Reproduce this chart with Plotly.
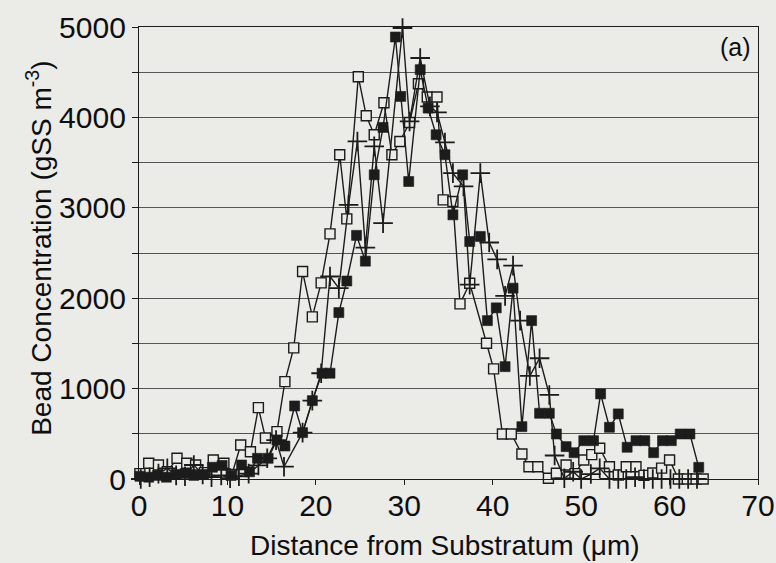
import plotly.graph_objects as go

# ---- data ----
dist_open = [0.1, 1.1, 2.2, 3.2, 4.3, 5.4, 6.4, 7.4, 8.4, 9.6,
             10.5, 11.5, 12.6, 13.5, 14.3, 15.6, 16.5, 17.5, 18.5, 19.6,
             20.6, 21.6, 22.7, 23.5, 24.8, 25.7, 26.6, 27.7, 28.6, 29.5,
             30.6, 31.6, 32.6, 33.7, 34.4, 35.5, 36.3, 37.4, 39.3, 40.1,
             41.1, 42.1, 43.3, 44.1, 45.1, 46.3, 47.2, 48.3, 49.3, 50.3,
             51.2, 52.1, 53.2, 54.2, 55.1, 56.2, 57.1, 58.1, 59.1, 60.0,
             61.0, 62.0, 63.0, 63.8]
conc_open = [60, 174, 155, 80, 229, 174, 155, 70, 210, 174,
             50, 376, 302, 790, 454, 524, 1077, 1450, 2295, 1793,
             2170, 2712, 3587, 2878, 4450, 4018, 3808, 4162, 3587, 3734,
             3944, 4373, 4225, 4225, 3088, 3070, 1937, 2166, 1502, 1218,
             498, 498, 277, 136, 136, 8, 63, 155, 60, 210,
             270, 340, 136, 44, 136, 136, 40, 66, 120, 210,
             0, 0, 0, 0]

dist_filled = [0.1, 1.1, 2.1, 3.1, 4.2, 5.2, 6.2, 7.3, 8.3, 9.4,
               10.4, 11.6, 12.5, 13.4, 14.6, 15.6, 16.5, 17.6, 18.5, 19.6,
               20.7, 21.6, 22.6, 23.5, 24.6, 25.6, 26.6, 27.6, 29.0, 29.6,
               30.5, 31.8, 32.7, 33.6, 34.6, 35.5, 36.6, 37.4, 38.6, 39.4,
               40.4, 41.4, 42.3, 43.3, 44.4, 45.3, 46.4, 47.2, 48.3, 49.2,
               50.3, 51.4, 52.2, 53.2, 54.2, 55.2, 56.2, 57.2, 58.2, 59.2,
               60.2, 61.2, 62.3, 63.3]
conc_filled = [30, 20, 40, 20, 50, 60, 40, 50, 130, 150,
               40, 155, 80, 229, 229, 432, 365, 808, 513, 867,
               1170, 1170, 1841, 2190, 2695, 2410, 3365, 3889, 4889, 4232,
               3291, 4528, 4103, 3808, 3587, 2922, 3365, 2627, 2683, 1752,
               1893, 1243, 2111, 579, 1752, 727, 727, 498, 358, 291,
               424, 424, 941, 572, 720, 351, 424, 424, 291, 424,
               424, 498, 498, 129]

dist_plus = [0.2, 1.2, 2.2, 3.2, 4.2, 5.2, 6.2, 7.2, 8.2, 9.3,
             10.3, 11.3, 12.4, 13.5, 14.5, 15.5, 16.4, 18.5, 19.6, 20.6,
             21.6, 22.6, 23.7, 24.7, 25.6, 26.6, 27.6, 29.8, 30.6, 31.8,
             32.9, 33.7, 34.6, 35.5, 36.7, 37.4, 38.6, 39.6, 40.5, 41.4,
             42.3, 43.1, 44.2, 45.3, 46.4, 47.0, 48.1, 49.1, 50.0, 51.1,
             52.1, 53.2, 54.2, 55.1, 56.1, 57.1, 58.1, 59.1, 60.1, 61.1,
             62.1, 63.1]
conc_plus = [0, 20, 60, 118, 40, 30, 155, 50, 20, 40,
             10, 30, 60, 150, 229, 430, 136, 513, 867, 1170,
             2240, 2111, 3033, 3734, 2560, 3679, 2830, 4989, 3955, 4657,
             4122, 4055, 3723, 3384, 3236, 2150, 3384, 2616, 2430, 2026,
             2360, 1752, 1140, 1336, 930, 260, 8, 80, 0, 55,
             118, 0, 0, 0, 20, 0, 0, 0, 0, 0,
             0, 0]

x_ticks = [0, 10, 20, 30, 40, 50, 60, 70]
y_ticks = [0, 500, 1000, 1500, 2000, 2500, 3000, 3500, 4000, 4500, 5000]
y_labels = ["0", "", "1000", "", "2000", "", "3000", "", "4000", "", "5000"]

BG = "#ebebe8"
INK = "#1c1c1c"
TXT = "#0e0e0e"
FONT = "Liberation Sans"

fig = go.Figure()
fig.add_trace(go.Scatter(
    x=dist_open, y=conc_open, mode="lines+markers", cliponaxis=False,
    line=dict(color=INK, width=1.4),
    marker=dict(symbol="square", size=10, color=BG, line=dict(color=INK, width=1.4)),
))
fig.add_trace(go.Scatter(
    x=dist_plus, y=conc_plus, mode="lines+markers", cliponaxis=False,
    line=dict(color=INK, width=1.4),
    marker=dict(symbol="cross-thin", size=14, color=INK, line=dict(color=INK, width=1.8)),
))
fig.add_trace(go.Scatter(
    x=dist_filled, y=conc_filled, mode="lines+markers", cliponaxis=False,
    line=dict(color=INK, width=1.4),
    marker=dict(symbol="square", size=10, color=INK, line=dict(color=INK, width=0.6)),
))

fig.update_layout(
    width=776, height=563,
    margin=dict(l=139, r=18, t=27, b=84),
    paper_bgcolor=BG, plot_bgcolor=BG,
    showlegend=False,
    font=dict(family=FONT, color=TXT),
    xaxis=dict(
        range=[0, 70], tickvals=x_ticks, ticks="outside", ticklen=5, tickwidth=1,
        tickcolor=INK, showline=True, linecolor=INK, linewidth=1.3, mirror=True,
        showgrid=False, zeroline=False, automargin=False, ticklabelstandoff=-5,
        tickfont=dict(size=30, family=FONT, color=TXT),
    ),
    yaxis=dict(
        range=[0, 5000], tickvals=y_ticks, ticktext=y_labels, ticks="outside", ticklen=6,
        tickwidth=1, tickcolor=INK, showline=True, linecolor=INK, linewidth=1.3, mirror=True,
        showgrid=True, gridcolor="#555555", gridwidth=1, zeroline=False, automargin=False,
        tickfont=dict(size=30, family=FONT, color=TXT),
    ),
    annotations=[
        dict(text="(a)", xref="paper", yref="paper", x=0.963, y=0.956,
             xanchor="center", yanchor="middle",
             showarrow=False, font=dict(size=25, family=FONT, color=TXT)),
        dict(text="Distance from Substratum (μm)", xref="paper", yref="paper",
             x=(445 - 139) / 618, y=-(545 - 479) / 452, xanchor="center", yanchor="middle",
             showarrow=False, font=dict(size=28, family=FONT, color=TXT)),
        dict(text="Bead Concentration (gSS m<sup>-3</sup>)", xref="paper", yref="paper",
             x=-(139 - 39) / 618, y=(479 - 248) / 452, xanchor="center", yanchor="middle",
             textangle=-90, showarrow=False, font=dict(size=28, family=FONT, color=TXT)),
    ],
)

fig.write_html("out.html")
